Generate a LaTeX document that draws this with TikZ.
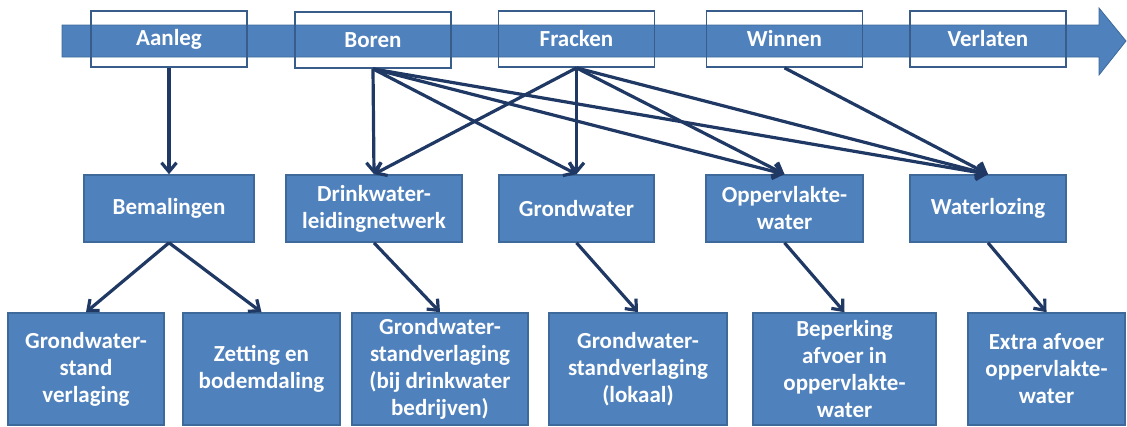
\documentclass[tikz,border=0pt]{standalone}
\usepackage{fontspec}
\setmainfont{Carlito}
\usetikzlibrary{arrows.meta}
\definecolor{boxblue}{HTML}{4F81BD}
\definecolor{boxedge}{HTML}{3D6A9A}
\definecolor{topedge}{HTML}{385D8A}
\definecolor{arrowcol}{HTML}{1F3864}
\begin{document}
\begin{tikzpicture}[x=1pt,y=-1pt,
  txt/.style={font=\fontsize{23}{27}\selectfont\bfseries, text=white, align=center, inner sep=0pt},
  phase/.style={txt, draw=topedge, line width=1.8pt, minimum width=156pt, minimum height=56pt},
  midbox/.style={txt, fill=boxblue, draw=boxedge, line width=1.6pt, minimum height=67pt},
  botbox/.style={txt, fill=boxblue, draw=boxedge, line width=1.6pt, minimum height=112pt},
  link/.style={draw=arrowcol, line width=3.2pt, -{Straight Barb[length=9pt,width=15pt]}}
]
\useasboundingbox (0,0) rectangle (1127,426);
% timeline arrow
\fill[boxblue, draw=boxedge, line width=0.8pt] (62,25) -- (1099,25) -- (1099,8) -- (1126,41) -- (1099,75) -- (1099,57) -- (62,57) -- cycle;
% phases
\node[phase] (aanleg) at (169,39) {Aanleg};
\node[phase] (boren) at (373,40) {Boren};
\node[phase] (fracken) at (576.5,39) {Fracken};
\node[phase] (winnen) at (784.5,39) {Winnen};
\node[phase] (verlaten) at (988,39) {Verlaten};
% middle
\node[midbox, minimum width=170pt] (bemal) at (169,208.5) {Bemalingen};
\node[midbox, minimum width=176pt] (drink) at (374,208.5) {Drinkwater-\\leidingnetwerk};
\node[midbox, minimum width=155pt] (grond) at (576.5,208.5) {Grondwater};
\node[midbox, minimum width=157pt] (opp) at (784.5,208.5) {Oppervlakte-\\water};
\node[midbox, minimum width=156pt] (lozing) at (988,208.5) {Waterlozing};
% bottom
\node[botbox, minimum width=156pt] (b1) at (86,369) {Grondwater-\\stand\\verlaging};
\node[botbox, minimum width=157pt] (b2) at (261.5,369) {Zetting en\\bodemdaling};
\node[botbox, minimum width=176pt] (b3) at (440,369) {Grondwater-\\standverlaging\\(bij drinkwater\\bedrijven)};
\node[botbox, minimum width=178pt] (b4) at (638,369) {Grondwater-\\standverlaging\\(lokaal)};
\node[botbox, minimum width=183pt] (b5) at (844.5,369) {Beperking\\afvoer in\\oppervlakte-\\water};
\node[botbox, minimum width=157pt] (b6) at (1046.5,369) {Extra afvoer\\oppervlakte-\\water};
% connectors
\draw[link] (aanleg.south) -- (bemal.north);
\draw[link] (boren.south) -- (drink.north);
\draw[link] (boren.south) -- (grond.north);
\draw[link] (boren.south) -- (opp.north);
\draw[link] (boren.south) -- (lozing.north);
\draw[link] (fracken.south) -- (drink.north);
\draw[link] (fracken.south) -- (grond.north);
\draw[link] (fracken.south) -- (opp.north);
\draw[link] (fracken.south) -- (lozing.north);
\draw[link] (winnen.south) -- (lozing.north);
\draw[link] (bemal.south) -- (b1.north);
\draw[link] (bemal.south) -- (b2.north);
\draw[link] (drink.south) -- (b3.north);
\draw[link] (grond.south) -- (b4.north);
\draw[link] (opp.south) -- (b5.north);
\draw[link] (lozing.south) -- (b6.north);
\end{tikzpicture}
\end{document}
